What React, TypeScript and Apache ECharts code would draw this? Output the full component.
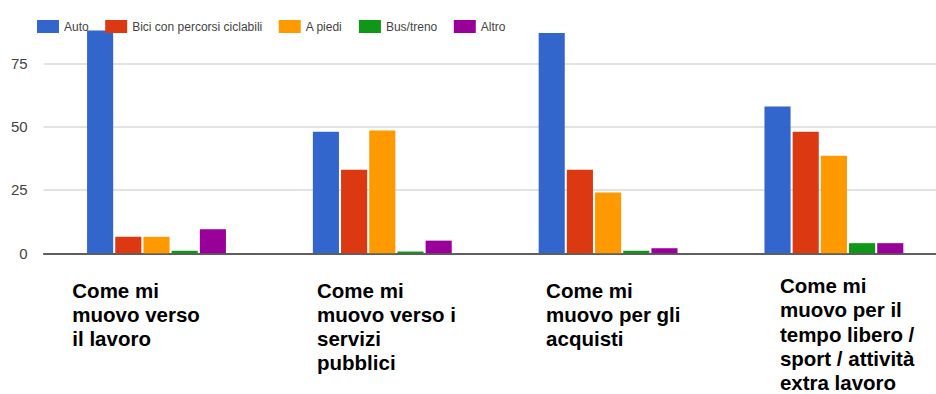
import React, { useEffect, useRef } from "react";
import * as echarts from "echarts";

const categories = [
  "Come mi\nmuovo verso\nil lavoro",
  "Come mi\nmuovo verso i\nservizi\npubblici",
  "Come mi\nmuovo per gli\nacquisti",
  "Come mi\nmuovo per il\ntempo libero /\nsport / attività\nextra lavoro",
];

const seriesNames = ["Auto", "Bici con percorsi ciclabili", "A piedi", "Bus/treno", "Altro"];
const auto = [88, 48, 87, 58];
const bici = [6.5, 33, 33, 48];
const aPiedi = [6.5, 48.5, 24, 38.5];
const busTreno = [1, 0.7, 1, 4];
const altro = [9.5, 5, 2, 4];
const yTicks = [0, 25, 50, 75, 100];

const colors = ["#3366CC", "#DC3912", "#FF9900", "#109618", "#990099"];
// category label placement: [dx from category centre, dy below axis]
const labelOffsets = [
  [-84.2, 24.6],
  [-65.3, 24.6],
  [-62, 24.6],
  [-54, 20],
];

export default function App() {
  const ref = useRef<HTMLDivElement>(null);
  useEffect(() => {
    if (!ref.current) return;
    const chart = echarts.init(ref.current, undefined, { renderer: "svg" });
    const values = [auto, bici, aPiedi, busTreno, altro];
    chart.setOption({
      animation: false,
      color: colors,
      legend: {
        left: 32,
        top: 15,
        itemWidth: 22,
        itemHeight: 13,
        itemGap: 16.5,
        icon: "rect",
        textStyle: {
          fontFamily: "'Liberation Sans', Arial, sans-serif",
          fontSize: 12,
          color: "#444",
        },
        data: seriesNames,
      },
      grid: {
        left: 43.6,
        right: -10.8,
        top: 0,
        bottom: 140.7,
        containLabel: false,
        outerBoundsMode: "none",
      },
      xAxis: {
        type: "category",
        data: categories,
        axisTick: { show: false },
        axisLine: { lineStyle: { color: "#333", width: 1.5 } },
        axisLabel: { show: false },
      },
      yAxis: {
        type: "value",
        min: yTicks[0],
        max: yTicks[yTicks.length - 1],
        interval: 25,
        axisLine: { show: false },
        axisTick: { show: false },
        axisLabel: {
          showMaxLabel: false,
          margin: 16,
          fontFamily: "'Liberation Sans', Arial, sans-serif",
          fontSize: 15,
          color: "#444",
        },
        splitLine: { showMaxLine: false, lineStyle: { color: "#dadada", width: 1.5 } },
      },
      series: seriesNames.map((name, i) => ({
        name,
        type: "bar",
        data: values[i],
        barGap: "8%",
        barCategoryGap: "38.5%",
        itemStyle: { color: colors[i] },
      })),
    });
    const baseY = chart.convertToPixel({ yAxisIndex: 0 }, 0) as number;
    chart.setOption({
      graphic: categories.map((c, i) => ({
        type: "text",
        x: (chart.convertToPixel({ xAxisIndex: 0 }, i) as number) + labelOffsets[i][0],
        y: baseY + labelOffsets[i][1],
        style: {
          text: c,
          fill: "#000",
          font: "bold 20.5px 'Liberation Sans', Arial, sans-serif",
          lineHeight: 24.3,
          textAlign: "left",
          textVerticalAlign: "top",
        },
      })),
    });
    return () => chart.dispose();
  }, []);
  return (
    <div
      ref={ref}
      style={{ position: "absolute", left: 0, top: 0, width: 936, height: 394, background: "#fff" }}
    />
  );
}
